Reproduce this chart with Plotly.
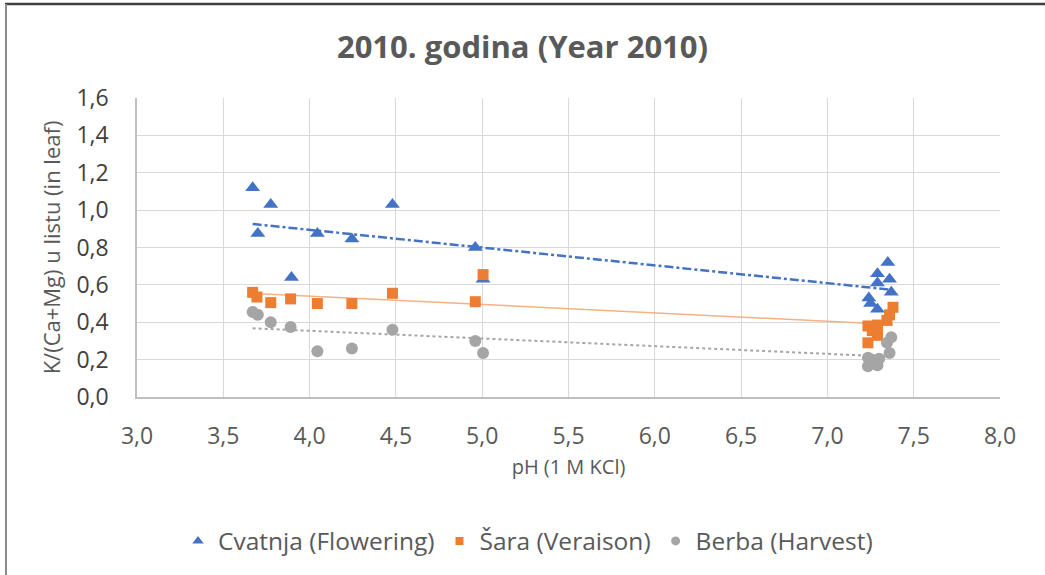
import numpy as np
import plotly.graph_objects as go

# Data
flower_ph = [3.67, 3.775, 3.70, 3.895, 4.045, 4.245, 4.48, 4.96, 5.005,
             7.35, 7.29, 7.36, 7.29, 7.37, 7.24, 7.25, 7.29]
flower_val = [1.12, 1.03, 0.875, 0.64, 0.875, 0.845, 1.03, 0.80, 0.63,
              0.72, 0.66, 0.63, 0.61, 0.56, 0.53, 0.50, 0.47]

ver_ph = [3.67, 3.695, 3.775, 3.89, 4.045, 4.245, 4.48, 4.96, 5.005,
          7.38, 7.36, 7.345, 7.29, 7.235, 7.26, 7.29, 7.235]
ver_val = [0.56, 0.535, 0.505, 0.525, 0.50, 0.50, 0.555, 0.51, 0.655,
           0.48, 0.44, 0.41, 0.385, 0.38, 0.355, 0.33, 0.29]

har_ph = [3.67, 3.70, 3.775, 3.89, 4.045, 4.245, 4.48, 4.96, 5.005,
          7.37, 7.345, 7.36, 7.235, 7.26, 7.30, 7.235, 7.29]
har_val = [0.455, 0.44, 0.40, 0.375, 0.245, 0.26, 0.36, 0.30, 0.235,
           0.32, 0.29, 0.235, 0.21, 0.20, 0.205, 0.165, 0.17]

x_ticks = [3.0, 3.5, 4.0, 4.5, 5.0, 5.5, 6.0, 6.5, 7.0, 7.5, 8.0]
y_ticks = [0.0, 0.2, 0.4, 0.6, 0.8, 1.0, 1.2, 1.4, 1.6]

FONT = "Open Sans"
TXT = "#595959"
W, H = 1045, 575
L, R, T, B = 137, 45, 98, 178
PW, PH = W - L - R, H - T - B

series = [
    ("Cvatnja (Flowering)", flower_ph, flower_val, "#4472C4", "triangle-up", 13, 10,
     dict(color="#4472C4", width=2.5, dash="dashdot")),
    ("Šara (Veraison)", ver_ph, ver_val, "#ED7D31", "square", 11, 8,
     dict(color="#F4B183", width=1.5, dash="solid")),
    ("Berba (Harvest)", har_ph, har_val, "#A5A5A5", "circle", 12, 9,
     dict(color="#A5A5A5", width=2, dash="dot")),
]

fig = go.Figure()
for name, xs, ys, col, sym, size, lsize, line in series:
    xa = np.array(xs)
    ya = np.array(ys)
    k, b = np.polyfit(xa, ya, 1)
    xl = np.array([xa.min(), xa.max()])
    fig.add_trace(go.Scatter(x=xl, y=k * xl + b, mode="lines", line=line,
                             showlegend=False, hoverinfo="skip"))
for name, xs, ys, col, sym, size, lsize, line in series:
    fig.add_trace(go.Scatter(x=xs, y=ys, mode="markers", name=name, showlegend=False,
                             marker=dict(symbol=sym, size=size, color=col)))
# legend entries with small symbols
for name, xs, ys, col, sym, size, lsize, line in series:
    fig.add_trace(go.Scatter(x=[None], y=[None], mode="markers", name=name,
                             marker=dict(symbol=sym, size=lsize, color=col)))

fig.update_layout(
    width=W, height=H,
    margin=dict(l=L, r=R, t=T, b=B),
    paper_bgcolor="white", plot_bgcolor="white",
    separators=", ",
    font=dict(family=FONT, color=TXT, size=16),
    title=dict(text="<b>2010. godina (Year 2010)</b>", x=0.5, xanchor="center",
               y=1 - 47 / H, yanchor="middle",
               font=dict(size=31, color=TXT, family=FONT)),
    xaxis=dict(range=[3.0, 8.0], tickvals=x_ticks, tickformat=".1f",
               showgrid=True, gridcolor="#D9D9D9", gridwidth=1, zeroline=False,
               showline=True, linecolor="#BFBFBF", linewidth=1.5,
               ticks="", ticklabelstandoff=18, tickfont=dict(size=23, color=TXT),
               title=dict(text="pH (1 M KCl)", font=dict(size=20, color=TXT), standoff=10)),
    yaxis=dict(range=[0.0, 1.6], tickvals=y_ticks, tickformat=".1f",
               showgrid=True, gridcolor="#D9D9D9", gridwidth=1, zeroline=False,
               showline=True, linecolor="#BFBFBF", linewidth=1.5,
               ticks="", ticklabelstandoff=22, tickfont=dict(size=23, color="#404040"),
               title=dict(text="K/(Ca+Mg) u listu (in leaf)", font=dict(size=22, color=TXT), standoff=10)),
    legend=dict(orientation="h", x=(528 - L) / PW, xanchor="center", y=-(541 - 397) / PH,
                yanchor="middle", font=dict(size=24.5, color=TXT), itemwidth=30,
                tracegroupgap=0, bgcolor="rgba(0,0,0,0)"),
    shapes=[
        dict(type="line", xref="paper", yref="paper",
             x0=-(L - 5) / PW, x1=1 + R / PW, y0=1 + (T - 4) / PH, y1=1 + (T - 4) / PH,
             line=dict(color="#404040", width=2.5)),
        dict(type="line", xref="paper", yref="paper",
             x0=-(L - 6) / PW, x1=-(L - 6) / PW, y0=1 + (T - 4) / PH, y1=-B / PH,
             line=dict(color="#8C8C8C", width=2)),
    ],
)

fig.write_html("out.html", config={"displayModeBar": False})
with open("out.html", encoding="utf-8") as f:
    html = f.read()
html = html.replace("<body>", '<body style="margin:0;overflow:hidden">', 1)
with open("out.html", "w", encoding="utf-8") as f:
    f.write(html)
